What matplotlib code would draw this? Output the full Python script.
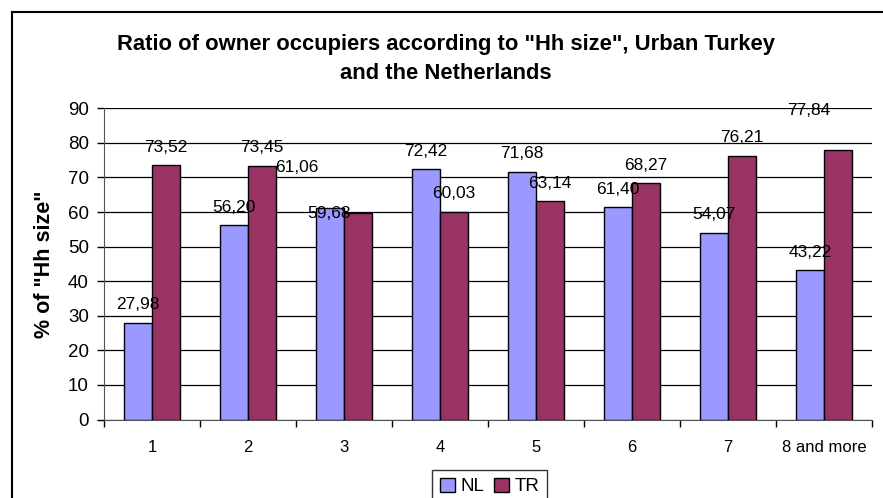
import matplotlib
matplotlib.use("Agg")
import matplotlib.pyplot as plt
from matplotlib.lines import Line2D
import numpy as np

plt.rcParams['font.family'] = ['Liberation Sans', 'DejaVu Sans']

categories = ["1", "2", "3", "4", "5", "6", "7", "8 and more"]
nl = [27.98, 56.20, 61.06, 72.42, 71.68, 61.40, 54.07, 43.22]
tr = [73.52, 73.45, 59.68, 60.03, 63.14, 68.27, 76.21, 77.84]

# label nudges in pixels (a few labels were dragged by hand in the original)
nl_dx = [0, 0, -33, 0, 0, 0, 0, 0]
nl_dy = [18, 18, 41, 18, 18, 18, 18, 18]
tr_dx = [0, 0, -29, 0, 0, 0, 0, -29]
tr_dy = [18, 18, 0, 18, 18, 18, 18, 40]

nl_color = '#9999FF'
tr_color = '#993366'

fig = plt.figure(figsize=(8.83, 4.98), dpi=100)
ax = fig.add_axes([104/883, 1-419.5/498, (872-104)/883, (419.5-108.3)/498])

x = np.arange(len(categories))
w = 0.29
b1 = ax.bar(x - w/2, nl, w, color=nl_color, edgecolor='black', linewidth=1, label='NL', zorder=3)
b2 = ax.bar(x + w/2, tr, w, color=tr_color, edgecolor='black', linewidth=1, label='TR', zorder=3)

def fmt(v):
    return ('%.2f' % v).replace('.', ',')

for i in range(len(categories)):
    ax.annotate(fmt(nl[i]), (x[i] - w/2, nl[i]), xytext=(nl_dx[i], nl_dy[i]),
                textcoords='offset pixels', ha='center', va='center', fontsize=12.5, zorder=5)
    ax.annotate(fmt(tr[i]), (x[i] + w/2, tr[i]), xytext=(tr_dx[i], tr_dy[i]),
                textcoords='offset pixels', ha='center', va='center', fontsize=12.5, zorder=5)

ax.set_xlim(-0.5, len(categories) - 0.5)
ax.set_ylim(0, 90)
ax.set_yticks(range(0, 91, 10))
ax.yaxis.grid(True, color='black', linewidth=0.9, zorder=0)
ax.set_axisbelow(True)

ax.set_xticks(x)
ax.set_xticklabels(categories, fontsize=12)
ax.set_xticks(np.arange(-0.5, len(categories)), minor=True)
ax.tick_params(axis='x', which='major', length=0, pad=15)
ax.tick_params(axis='x', which='minor', length=5, width=1, color='black', direction='out')
ax.tick_params(axis='y', length=5, width=1, pad=6, labelsize=13.5)

for s in ['top', 'right']:
    ax.spines[s].set_visible(False)
ax.spines['left'].set_color('#555555')
ax.spines['bottom'].set_color('#555555')

ax.set_ylabel('% of "Hh size"', fontsize=15.5, fontweight='bold', labelpad=9)

fig.text(446/883, 1-59/498, 'Ratio of owner occupiers according to "Hh size", Urban Turkey\nand the Netherlands',
         ha='center', va='center', fontsize=15.8, fontweight='bold', linespacing=1.5)

leg = fig.legend(handles=[b1, b2], loc='upper center', bbox_to_anchor=(489.5/883, 1-470/498),
                 borderaxespad=0, ncol=2, frameon=True, fancybox=False, fontsize=13.5,
                 handlelength=0.8, handleheight=0.8, handletextpad=0.3, columnspacing=0.5,
                 borderpad=0.4)
leg.get_frame().set_edgecolor('black')
leg.get_frame().set_linewidth(1)

# outer chart border (right and bottom edges fall outside the image)
fig.add_artist(Line2D([12/883, 12/883], [0, 1-12/498], transform=fig.transFigure, color='black', linewidth=1.5))
fig.add_artist(Line2D([12/883, 1], [1-12/498, 1-12/498], transform=fig.transFigure, color='black', linewidth=1.5))

fig.savefig('out.png', dpi=100)
